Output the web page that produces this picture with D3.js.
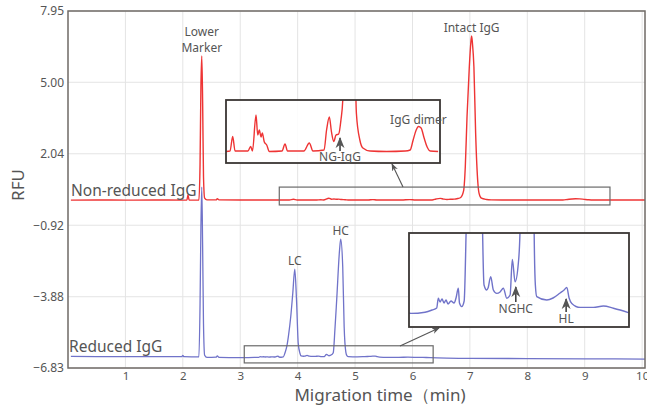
<!DOCTYPE html>
<html>
<head>
<meta charset="utf-8">
<script src="https://cdn.jsdelivr.net/npm/d3@7"></script>
<style>
  body { margin: 0; background: #fff; }
  svg { display: block; }
  text { font-family: "Noto Sans", sans-serif; fill: #555; }
</style>
</head>
<body>
<svg id="chart" width="647" height="405"></svg>
<script>
// tick values
const yTicks = [7.95, 5.00, 2.04, -0.92, -3.88, -6.83];
const xTicks = [1, 2, 3, 4, 5, 6, 7, 8, 9, 10];

// [migration time (min), RFU]
const nonReducedTrace = [
  [0.05, 0.12], [0.5, 0.125], [1.0, 0.12], [1.5, 0.125], [2.0, 0.12], [2.07, 0.12],
  [2.09, 0.33], [2.11, 0.12], [2.28, 0.12], [2.30, 1.6], [2.315, 4.8], [2.33, 6.09],
  [2.345, 4.2], [2.36, 1.1], [2.38, 0.2], [2.42, 0.13], [2.58, 0.13], [2.6, 0.18],
  [2.63, 0.13], [3.0, 0.125], [3.4, 0.125], [3.75, 0.125], [3.856, 0.126], [3.927, 0.155],
  [3.99, 0.126], [4.33, 0.126], [4.403, 0.135], [4.45, 0.126], [4.544, 0.198], [4.589, 0.158],
  [4.631, 0.168], [4.676, 0.154], [4.71, 0.162], [4.763, 0.144], [4.827, 0.138], [4.896, 0.125],
  [5.231, 0.126], [5.311, 0.14], [5.377, 0.126], [5.81, 0.126], [5.954, 0.142], [6.05, 0.126],
  [6.343, 0.128], [6.41, 0.168], [6.483, 0.194], [6.54, 0.164], [6.6, 0.145], [6.66, 0.158],
  [6.73, 0.16], [6.79, 0.188], [6.84, 0.23], [6.89, 0.5], [6.92, 1.5], [6.95, 3.57],
  [6.99, 5.64], [7.015, 6.6], [7.03, 6.92], [7.045, 6.6], [7.07, 5.64], [7.1, 2.9],
  [7.14, 0.8], [7.16, 0.4], [7.2, 0.2], [7.29, 0.148], [7.37, 0.132], [7.56, 0.126],
  [8.0, 0.125], [8.49, 0.126], [8.62, 0.128], [8.70, 0.148], [8.78, 0.168], [8.84, 0.175],
  [8.91, 0.172], [8.99, 0.152], [9.07, 0.134], [9.15, 0.126], [9.36, 0.125], [9.7, 0.125],
  [10.05, 0.125]
];

const reducedTrace = [
  [0.05, -6.35], [0.5, -6.355], [1.0, -6.36], [1.5, -6.36], [1.98, -6.36], [2.0, -6.31],
  [2.02, -6.36], [2.28, -6.37], [2.30, -4.2], [2.315, -1.0], [2.33, 0.66], [2.345, -1.8],
  [2.36, -5.0], [2.38, -6.3], [2.42, -6.39], [2.58, -6.38], [2.6, -6.33], [2.63, -6.39],
  [2.89, -6.40], [2.917, -6.401], [3.14, -6.398], [3.25, -6.3925], [3.322, -6.3875],
  [3.347, -6.363], [3.374, -6.3725], [3.405, -6.365], [3.436, -6.375], [3.467, -6.3675],
  [3.498, -6.3775], [3.545, -6.37], [3.592, -6.375], [3.623, -6.3625], [3.659, -6.338],
  [3.677, -6.375], [3.712, -6.384], [3.75, -6.37], [3.78, -6.2], [3.81, -5.95], [3.84, -5.5],
  [3.88, -4.7], [3.915, -3.74], [3.95, -2.74], [3.98, -4.0], [4.01, -5.8], [4.04, -6.22],
  [4.06, -6.33], [4.102, -6.3425], [4.122, -6.3375], [4.164, -6.309], [4.205, -6.3425],
  [4.258, -6.351], [4.31, -6.3475], [4.361, -6.338], [4.414, -6.363], [4.466, -6.355],
  [4.501, -6.266], [4.544, -6.322], [4.595, -6.275], [4.62, -6.2], [4.65, -5.2], [4.68, -4.01],
  [4.73, -1.94], [4.75, -1.5], [4.785, -2.63], [4.81, -5.12], [4.84, -6.18], [4.86, -6.33],
  [4.882, -6.359], [5.038, -6.3675], [5.136, -6.3625], [5.246, -6.35], [5.308, -6.3425],
  [5.35, -6.336], [5.386, -6.3625], [5.428, -6.376], [5.558, -6.386], [5.765, -6.386],
  [5.921, -6.3825], [6.077, -6.388], [6.182, -6.3925], [6.311, -6.399], [6.6, -6.42],
  [7.0, -6.43], [8.0, -6.44], [9.0, -6.45], [10.05, -6.46]
];

// peak labels on the main traces: [text lines, time, rfu]
const peakLabels = [
  [["Lower", "Marker"], 2.33, 6.09],
  [["Intact IgG"], 7.03, 6.92],
  [["LC"], 3.95, -2.74],
  [["HC"], 4.75, -1.5]
];

var svg = d3.select("#chart");
var pL = 68, pR = 645, pT = 11, pB = 368;

var x = d3.scaleLinear().domain([0, 10.05]).range([pL, pR]);
var y = d3.scaleLinear().domain([-6.83, 7.95]).range([pB, pT]);

var fmt = (v) => v.toFixed(2).replace("-", "\u2212");

// grid
svg.append("g").selectAll("line").data(yTicks).enter().append("line")
  .attr("x1", pL).attr("x2", pR)
  .attr("y1", (d) => y(d)).attr("y2", (d) => y(d))
  .attr("stroke", "#e4e4e4").attr("stroke-width", 1);
svg.append("g").selectAll("line").data(xTicks).enter().append("line")
  .attr("x1", (d) => x(d)).attr("x2", (d) => x(d))
  .attr("y1", pT).attr("y2", pB)
  .attr("stroke", "#e4e4e4").attr("stroke-width", 1);

// axes
var yAxis = svg.append("g").attr("transform", `translate(${pL},0)`)
  .call(d3.axisLeft(y).tickValues(yTicks).tickFormat(fmt).tickSize(0).tickPadding(4));
yAxis.select(".domain").remove();
yAxis.selectAll("text").style("font-size", "12px").attr("fill", "#555");

var xAxis = svg.append("g").attr("transform", `translate(0,${pB})`)
  .call(d3.axisBottom(x).tickValues(xTicks).tickFormat(d3.format("d")).tickSize(0).tickPadding(4));
xAxis.select(".domain").remove();
xAxis.selectAll("text").style("font-size", "11.5px").attr("fill", "#555");

svg.append("text")
  .attr("transform", "translate(24,185) rotate(-90)")
  .attr("text-anchor", "middle")
  .style("font-size", "17px").attr("fill", "#444")
  .text("RFU");

svg.append("text")
  .attr("x", 380).attr("y", 401)
  .attr("text-anchor", "middle")
  .style("font-size", "17px").attr("fill", "#444")
  .text("Migration time\uff08min)");

// traces
var defs = svg.append("defs");
defs.append("clipPath").attr("id", "plotClip").append("rect")
  .attr("x", pL).attr("y", pT).attr("width", pR - pL).attr("height", pB - pT);

var line = d3.line().x((d) => x(d[0])).y((d) => y(d[1])).curve(d3.curveMonotoneX);

var traces = svg.append("g").attr("clip-path", "url(#plotClip)");
traces.append("path").datum(reducedTrace)
  .attr("d", line).attr("fill", "none")
  .attr("stroke", "#7073c9").attr("stroke-width", 1.3);
traces.append("path").datum(nonReducedTrace)
  .attr("d", line).attr("fill", "none")
  .attr("stroke", "#ee3434").attr("stroke-width", 1.4);

// frame
svg.append("rect")
  .attr("x", pL).attr("y", pT).attr("width", pR - pL).attr("height", pB - pT)
  .attr("fill", "none").attr("stroke", "#6f6a66").attr("stroke-width", 1.5);

// trace names
svg.append("text").attr("x", 71).attr("y", 196)
  .style("font-size", "15.5px").attr("fill", "#444").text("Non-reduced IgG");
svg.append("text").attr("x", 69).attr("y", 352)
  .style("font-size", "15.5px").attr("fill", "#444").text("Reduced IgG");

// peak labels
peakLabels.forEach((p) => {
  var t = svg.append("text")
    .attr("x", x(p[1])).attr("y", y(p[2]) - 4 - (p[0].length - 1) * 16)
    .attr("text-anchor", "middle").style("font-size", "12px").attr("fill", "#555");
  p[0].forEach((s, i) => {
    t.append("tspan").attr("x", x(p[1])).attr("dy", i ? 16 : 0).text(s);
  });
});

// arrow heads
defs.append("marker").attr("id", "head")
  .attr("viewBox", "0 0 10 10").attr("refX", 9).attr("refY", 5)
  .attr("markerWidth", 7).attr("markerHeight", 7).attr("orient", "auto")
  .append("path").attr("d", "M0,1 L10,5 L0,9 L3,5 Z").attr("fill", "#555");

// zoom boxes + insets
function inset(cfg) {
  // small box on the main plot
  svg.append("rect")
    .attr("x", x(cfg.from)).attr("y", y(cfg.hi))
    .attr("width", x(cfg.to) - x(cfg.from)).attr("height", y(cfg.lo) - y(cfg.hi))
    .attr("fill", "none").attr("stroke", "#6a6a6a").attr("stroke-width", 1.2);

  svg.append("line")
    .attr("x1", cfg.arrow[0]).attr("y1", cfg.arrow[1])
    .attr("x2", cfg.arrow[2]).attr("y2", cfg.arrow[3])
    .attr("stroke", "#555").attr("stroke-width", 1.1)
    .attr("marker-end", "url(#head)");

  var b = cfg.box;
  var ix = d3.scaleLinear().domain(cfg.xDomain).range([b[0], b[0] + b[2]]);
  var iy = d3.scaleLinear().domain(cfg.yDomain).range([b[1] + b[3], b[1]]);

  defs.append("clipPath").attr("id", cfg.id).append("rect")
    .attr("x", b[0]).attr("y", b[1]).attr("width", b[2]).attr("height", b[3]);

  svg.append("rect").attr("x", b[0]).attr("y", b[1]).attr("width", b[2]).attr("height", b[3])
    .attr("fill", "#fff").attr("fill-opacity", 0.85);

  var sub = cfg.data.filter((d) => d[0] >= cfg.xDomain[0] - 0.1 && d[0] <= cfg.xDomain[1] + 0.1);
  svg.append("path").datum(sub)
    .attr("clip-path", `url(#${cfg.id})`)
    .attr("d", d3.line().x((d) => ix(d[0])).y((d) => iy(d[1])).curve(d3.curveMonotoneX))
    .attr("fill", "none").attr("stroke", cfg.color).attr("stroke-width", 1.4);

  svg.append("rect").attr("x", b[0]).attr("y", b[1]).attr("width", b[2]).attr("height", b[3])
    .attr("fill", "none").attr("stroke", "#3a3633").attr("stroke-width", 1.8);

  cfg.labels.forEach((l) => {
    var lx = ix(l.t);
    svg.append("text").attr("x", lx).attr("y", l.ty)
      .attr("text-anchor", "middle").style("font-size", "12px").attr("fill", "#555")
      .text(l.text);
    if (l.arrow) {
      svg.append("line")
        .attr("x1", lx).attr("y1", l.arrow[0]).attr("x2", lx).attr("y2", l.arrow[1])
        .attr("stroke", "#444").attr("stroke-width", 1.6)
        .attr("marker-end", "url(#head)");
    }
  });
}

inset({
  id: "redInset", data: nonReducedTrace, color: "#ee3434",
  from: 3.68, to: 9.44, lo: -0.08, hi: 0.66,
  box: [226, 100, 214, 63], xDomain: [3.75, 9.41], yDomain: [0.102, 0.228],
  arrow: [403, 187, 392, 164],
  labels: [
    { text: "IgG dimer", t: 8.84, ty: 123.5 },
    { text: "NG-IgG", t: 6.766, ty: 161, arrow: [151, 138] }
  ]
});

inset({
  id: "blueInset", data: reducedTrace, color: "#7073c9",
  from: 3.07, to: 6.36, lo: -6.62, hi: -5.91,
  box: [409, 233, 220, 94], xDomain: [2.89, 6.32], yDomain: [-6.435, -6.20],
  arrow: [400, 346, 439, 328],
  labels: [
    { text: "NGHC", t: 4.555, ty: 312.5, arrow: [302, 287] },
    { text: "HL", t: 5.34, ty: 322.5, arrow: [312, 299] }
  ]
});
</script>
</body>
</html>
